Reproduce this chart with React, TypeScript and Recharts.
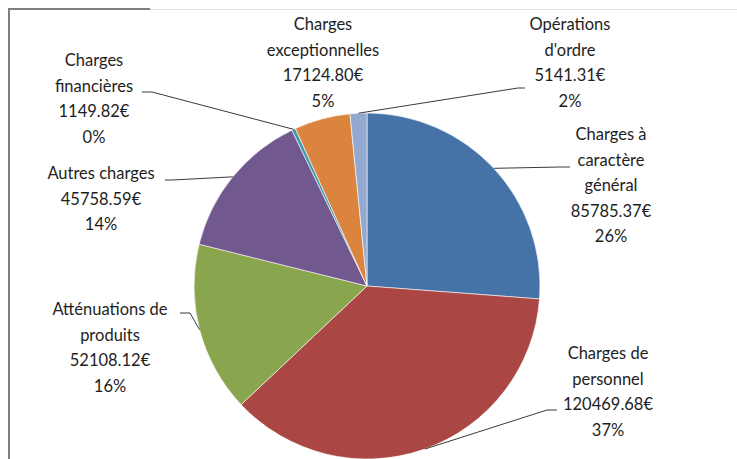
import React from 'react';
import { PieChart, Pie, Cell } from 'recharts';

const CATEGORIES = [
  'Charges à\ncaractère\ngénéral',
  'Charges de\npersonnel',
  'Atténuations de\nproduits',
  'Autres charges',
  'Charges\nfinancières',
  'Charges\nexceptionnelles',
  "Opérations\nd'ordre",
];
const AMOUNTS = [85785.37, 120469.68, 52108.12, 45758.59, 1149.82, 17124.8, 5141.31];

const COLORS = ['#4572A7', '#AA4643', '#89A54E', '#71588F', '#4198AF', '#DB843D', '#93A9CF'];

// label placement relative to the pie centre: text centre of the first line, then the leader elbow / end
const LABEL_POS: { tx: number; ty: number; line?: [number, number, number, number] }[] = [
  { tx: 244, ty: -152, line: [193, -119, 203, -119] },
  { tx: 241, ty: 67, line: [180, 124, 190, 124] },
  { tx: -257, ty: 23, line: [-177, 27, -187, 27] },
  { tx: -266, ty: -113, line: [-195, -106, -202, -106] },
  { tx: -273, ty: -226, line: [-215, -194, -225, -194] },
  { tx: -44, ty: -262 },
  { tx: 203, ty: -262, line: [151, -198, 158, -198] },
];

const data = CATEGORIES.map((name, i) => ({ name, value: AMOUNTS[i] }));
const total = AMOUNTS.reduce((a, b) => a + b, 0);

const RAD = Math.PI / 180;
const FONT = 'Lato, "Open Sans", sans-serif';
const LINE_H = 25.6;

const renderLabel = (props: any) => {
  const { cx, cy, midAngle, outerRadius, index, value } = props;
  const pos = LABEL_POS[index];
  const lines = [
    ...CATEGORIES[index].split('\n'),
    value.toFixed(2) + '€',
    Math.round((value / total) * 100) + '%',
  ];
  const sx = cx + outerRadius * Math.cos(-midAngle * RAD);
  const sy = cy + outerRadius * Math.sin(-midAngle * RAD);
  return (
    <g key={`lbl-${index}`}>
      {pos.line && (
        <polyline
          points={`${sx},${sy} ${cx + pos.line[0]},${cy + pos.line[1]} ${cx + pos.line[2]},${cy + pos.line[3]}`}
          fill="none"
          stroke="#3a3a3a"
          strokeWidth={1}
        />
      )}
      <text
        x={cx + pos.tx}
        y={cy + pos.ty}
        textAnchor="middle"
        dominantBaseline="central"
        fill="#1e1e1e"
        fontFamily={FONT}
        fontSize={16.5}
      >
        {lines.map((l, i) => (
          <tspan key={i} x={cx + pos.tx} y={cy + pos.ty + i * LINE_H}>
            {l}
          </tspan>
        ))}
      </text>
    </g>
  );
};

export default function App() {
  return (
    <div style={{ position: 'absolute', left: 0, top: 0, width: 737, height: 459, background: '#fff', overflow: 'hidden' }}>
      <div style={{ position: 'absolute', left: 8, top: 8, width: 2, height: 451, background: '#7f7f7f' }} />
      <div style={{ position: 'absolute', left: 8, top: 8, width: 142, height: 2, background: '#7f7f7f' }} />
      <div style={{ position: 'absolute', left: 150, top: 9, width: 587, height: 1, background: '#e4e4e4' }} />
      <PieChart width={737} height={459} margin={{ top: 0, right: 0, bottom: 0, left: 0 }}>
        <Pie
          data={data}
          dataKey="value"
          nameKey="name"
          cx={367}
          cy={286}
          outerRadius={173}
          startAngle={90}
          endAngle={-270}
          stroke="#ffffff"
          strokeWidth={0.6}
          label={renderLabel}
          labelLine={false}
          isAnimationActive={false}
        >
          {data.map((entry, index) => (
            <Cell key={`cell-${index}`} fill={COLORS[index]} />
          ))}
        </Pie>
      </PieChart>
    </div>
  );
}
